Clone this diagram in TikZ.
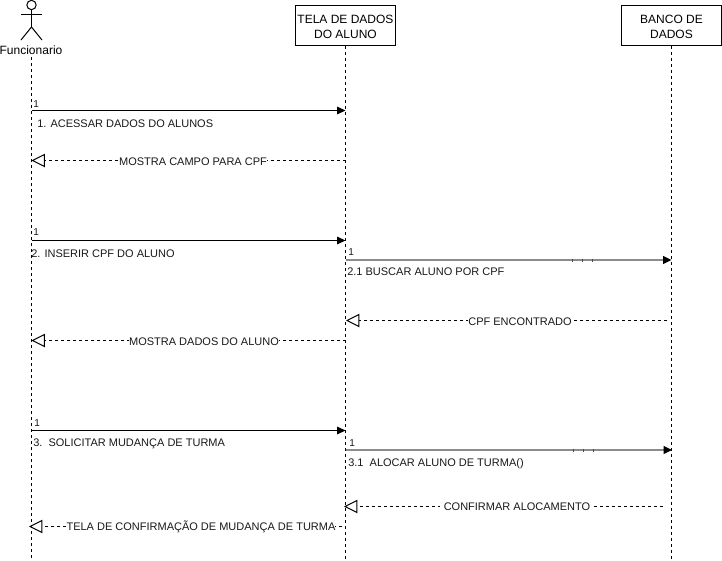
\documentclass[tikz,border=0pt]{standalone}
\usepackage{fontspec}
\setmainfont{Liberation Sans}
\usepackage{xcolor}
\usetikzlibrary{arrows.meta}

\tikzset{
    caixa/.style={draw, line width=0.8pt, minimum width=75pt, minimum height=30pt, inner sep=0pt, align=center, font=\fontsize{9}{11.2}\selectfont},
    vida/.style={dash pattern=on 2.25pt off 2.25pt, line width=0.75pt},
    chamada/.style={-{Triangle[length=6.2pt,width=5.6pt]}, line width=0.75pt},
    chamadaforte/.style={-{Triangle[length=6.2pt,width=5.6pt,color=black,fill=black]}, line width=1.6pt, draw=black!45},
    retorno/.style={-{Triangle[open,length=10pt,width=10pt,fill=white]}, dash pattern=on 2.25pt off 2.25pt, line width=0.75pt},
    msg/.style={inner sep=0pt, text=black!90, font=\fontsize{8.25}{10}\selectfont},
    rotulo/.style={msg, fill=white, inner ysep=1pt},
    um/.style={msg, anchor=west, font=\fontsize{7.5}{9}\selectfont}
}

\begin{document}
\begin{tikzpicture}[x=0.75pt, y=-0.75pt]

    \useasboundingbox (0,0) rectangle (722,561);

    % =================================================================
    % 1. POSICOES DAS LINHAS DE VIDA
    % =================================================================
    \def\xf{31.5}
    \def\xt{345.5}
    \def\xb{671.5}
    \def\fim{560}

    % =================================================================
    % 2. ATOR E CAIXAS DO TOPO
    % =================================================================
    \draw[line width=0.75pt] (\xf,5) circle (3.5pt);
    \draw[line width=0.75pt] (\xf,9.7) -- (\xf,27);
    \draw[line width=0.75pt] (21,14.5) -- (42,14.5);
    \draw[line width=0.75pt] (21,40) -- (\xf,27) -- (42,40);
    \node[inner sep=0pt, font=\fontsize{9}{11}\selectfont] (funcionario) at (31,50) {Funcionario};

    \node[caixa] (tela) at (\xt,25.5) {\strut TELA DE DADOS\\DO ALUNO};
    \node[caixa] (banco) at (\xb,25.5) {\strut BANCO DE\\DADOS};

    % fim de cada linha de vida
    \coordinate (fimF) at (\xf,\fim);
    \coordinate (fimT) at (\xt,\fim);
    \coordinate (fimB) at (\xb,\fim);

    \draw[vida] (\xf,57) -- (fimF);
    \draw[vida] (tela.south) -- (fimT);
    \draw[vida] (banco.south) -- (fimB);

    % =================================================================
    % 3. PONTOS DAS MENSAGENS
    % =================================================================
    \coordinate (a1) at (\xf,110.5);   \coordinate (b1) at (\xt,110.5);
    \coordinate (a2) at (\xt,160.5);   \coordinate (b2) at (\xf,160.5);
    \coordinate (a3) at (\xf,240.5);   \coordinate (b3) at (\xt,240.5);
    \coordinate (a4) at (\xt,260);     \coordinate (b4) at (\xb,260);
    \coordinate (a5) at (667,320.5);   \coordinate (b5) at (346,320.5);
    \coordinate (a6) at (\xt,340.5);   \coordinate (b6) at (\xf,340.5);
    \coordinate (a7) at (\xf,430.5);   \coordinate (b7) at (\xt,430.5);
    \coordinate (a8) at (\xt,450);     \coordinate (b8) at (672,450);
    \coordinate (a9) at (663,506.5);   \coordinate (b9) at (344,506.5);
    \coordinate (a10) at (342,526.5);  \coordinate (b10) at (29,526.5);

    % =================================================================
    % 4. SETAS
    % =================================================================
    \draw[chamada] (a1) -- (b1);
    \draw[retorno] (a2) -- (b2);
    \draw[chamada] (a3) -- (b3);
    \draw[chamadaforte] (a4) -- (b4);
    \draw[retorno] (a5) -- (b5);
    \draw[retorno] (a6) -- (b6);
    \draw[chamada] (a7) -- (b7);
    \draw[chamadaforte] (a8) -- (b8);
    \draw[retorno] (a9) -- (b9);
    \draw[retorno] (a10) -- (b10);

    % marcas pequenas sobre as setas cinzas
    \foreach \xm in {572,582,592} {
        \draw[line width=0.4pt, black!70] (\xm,258.5) -- (\xm,261.5);
        \draw[line width=0.4pt, black!70] (\xm+1,448.5) -- (\xm+1,451.5);
    }

    % =================================================================
    % 5. TEXTOS DAS MENSAGENS
    % =================================================================
    \node[um] (um1) at (33,104) {1};
    \node[um] (um3) at (33,232.5) {1};
    \node[um] (um4) at (348,252.5) {1};
    \node[um] (um7) at (34,423) {1};
    \node[um] (um8) at (349,443) {1};

    \node[msg, anchor=west] (m1) at (37,123.5) {1. ACESSAR DADOS DO ALUNOS};
    \node[rotulo] (m2) at (193,161.5) {MOSTRA CAMPO PARA CPF};
    \node[msg, anchor=west] (m3) at (31,253.5) {2. INSERIR CPF DO ALUNO};
    \node[msg, anchor=west] (m4) at (347,272) {2.1 BUSCAR ALUNO POR CPF};
    \node[rotulo] (m5) at (520,322) {CPF ENCONTRADO};
    \node[rotulo] (m6) at (204,342) {MOSTRA DADOS DO ALUNO};
    \node[msg, anchor=west] (m7) at (33,443.5) {3.\ \ SOLICITAR MUDANÇA DE TURMA};
    \node[msg, anchor=west] (m8) at (348,463.5) {3.1\ \ ALOCAR ALUNO DE TURMA()};
    \node[rotulo, inner xsep=3pt] (m9) at (517,507) {CONFIRMAR ALOCAMENTO};
    \node[rotulo] (m10) at (201,527) {TELA DE CONFIRMAÇÃO DE MUDANÇA DE TURMA};

\end{tikzpicture}
\end{document}
